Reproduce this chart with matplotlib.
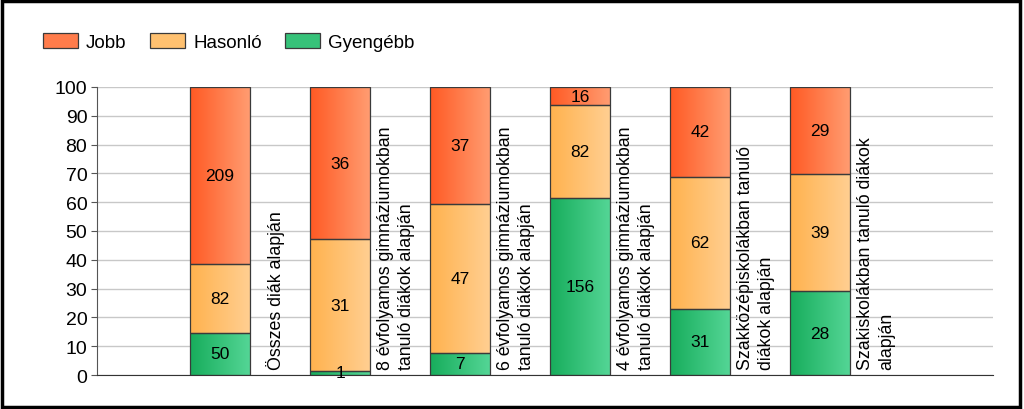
import matplotlib.pyplot as plt
import numpy as np
from matplotlib.patches import Rectangle, Patch

plt.rcParams['font.family'] = ['Liberation Sans', 'DejaVu Sans']

# adatok (darabszámok)
categories = ['Összes diák alapján',
              '8 évfolyamos gimnáziumokban\ntanuló diákok alapján',
              '6 évfolyamos gimnáziumokban\ntanuló diákok alapján',
              '4 évfolyamos gimnáziumokban\ntanuló diákok alapján',
              'Szakközépiskolákban tanuló\ndiákok alapján',
              'Szakiskolákban tanuló diákok\nalapján']
gyengebb = [50, 1, 7, 156, 31, 28]
hasonlo = [82, 31, 47, 82, 62, 39]
jobb = [209, 36, 37, 16, 42, 29]
series_names = ['Jobb', 'Hasonló', 'Gyengébb']

# színátmenetek (bal -> jobb)
grads = {
    'Gyengébb': ('#17ad5c', '#55d696'),
    'Hasonló': ('#ffb24e', '#ffcf92'),
    'Jobb': ('#ff5a24', '#ff9d72'),
}

def hex2rgb(h):
    h = h.lstrip('#')
    return np.array([int(h[i:i + 2], 16) / 255 for i in (0, 2, 4)])

def gradient_bar(ax, x0, y0, w, h, c1, c2):
    a, b = hex2rgb(c1), hex2rgb(c2)
    t = np.linspace(0, 1, 64)
    img = (a[None, :] * (1 - t[:, None]) + b[None, :] * t[:, None])[None, :, :]
    ax.imshow(img, extent=(x0, x0 + w, y0, y0 + h), aspect='auto', zorder=2, interpolation='bilinear')
    ax.add_patch(Rectangle((x0, y0), w, h, fill=False, edgecolor='#3a3a3a', lw=0.9, zorder=3))

fig = plt.figure(figsize=(10.24, 4.10), dpi=100)
ax = fig.add_axes([0.0947, 0.0829, 0.875, 0.7025])

x = np.arange(len(categories))
width = 0.5
totals = np.array(gyengebb) + np.array(hasonlo) + np.array(jobb)

for i in range(len(categories)):
    bottom = 0.0
    for name, vals in (('Gyengébb', gyengebb), ('Hasonló', hasonlo), ('Jobb', jobb)):
        pct = vals[i] / totals[i] * 100
        c1, c2 = grads[name]
        gradient_bar(ax, x[i] - width / 2, bottom, width, pct, c1, c2)
        ax.text(x[i], bottom + pct / 2, str(vals[i]), ha='center', va='center', fontsize=12.5, zorder=4)
        bottom += pct
    ax.text(x[i] + 0.465, 2.0, categories[i], rotation=90, ha='center', va='bottom',
            multialignment='left', fontsize=12.8, linespacing=1.3, zorder=4)

ax.set_xlim(-1.025, 6.44)
ax.set_ylim(0, 100)
ax.set_yticks(range(0, 101, 10))
ax.tick_params(axis='y', labelsize=14, length=4, color='#555555', pad=3)
ax.set_xticks([])
ax.yaxis.grid(True, color='#c8c8c8', lw=1)
ax.set_axisbelow(True)
for s in ('top', 'right'):
    ax.spines[s].set_visible(False)
ax.spines['left'].set_color('#555555')
ax.spines['bottom'].set_color('#333333')

handles = [Patch(facecolor=np.mean([hex2rgb(c) for c in grads[n]], axis=0), edgecolor='#3a3a3a', lw=0.9)
           for n in series_names]
fig.legend(handles, series_names, loc='center left', bbox_to_anchor=(0.042, 0.895), ncol=3,
           frameon=False, fontsize=13.5, handlelength=1.85, handleheight=0.85, columnspacing=1.25,
           handletextpad=0.45, borderpad=0, borderaxespad=0)

fig.add_artist(Rectangle((0.002, 0.004), 0.994, 0.992, transform=fig.transFigure, fill=False,
                         edgecolor='black', lw=2.5))

fig.savefig('out.png', dpi=100)
